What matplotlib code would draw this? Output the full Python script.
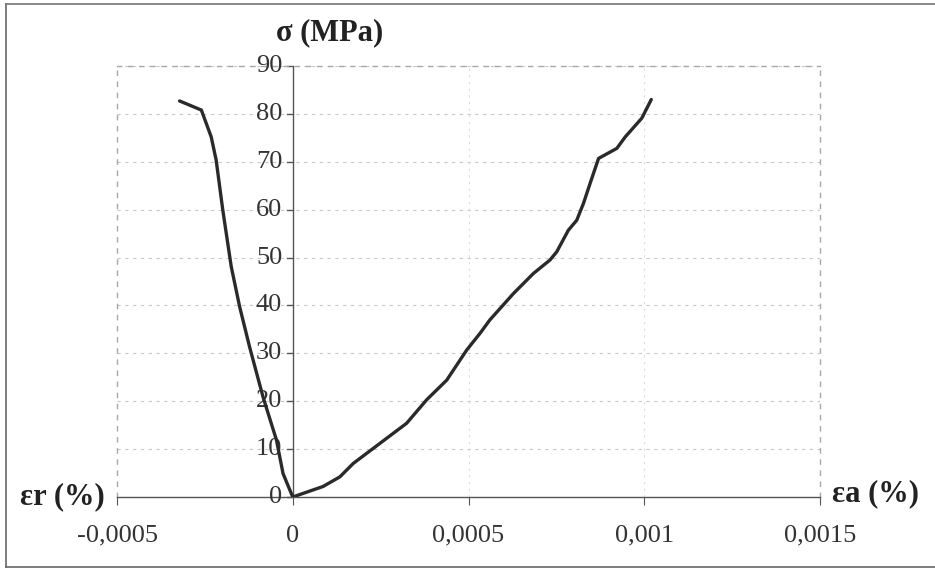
import matplotlib
matplotlib.use("Agg")
import matplotlib.pyplot as plt
from matplotlib.lines import Line2D

# radial strain (left branch)
er_x = [-0.000322, -0.000260, -0.000232, -0.000218, -0.000199, -0.000175,
        -0.000151, -0.000123, -0.0000846, -0.0000464, -0.0000276, 0.0]
er_y = [82.7, 80.8, 75.2, 70.4, 59.9, 48.1, 39.7, 31.4, 20.9, 11.9, 4.9, 0.0]

# axial strain (right branch)
ea_x = [0.0, 0.0000863, 0.000134, 0.000172, 0.000248, 0.000324, 0.000381,
        0.000438, 0.000495, 0.000533, 0.000561, 0.000628, 0.000685, 0.000732,
        0.000751, 0.000784, 0.000808, 0.000827, 0.000846, 0.000870, 0.000922,
        0.000946, 0.000993, 0.00102]
ea_y = [0.0, 2.2, 4.2, 7.0, 11.2, 15.4, 20.3, 24.4, 30.7, 34.2, 37.0, 42.5,
        46.7, 49.5, 51.2, 55.7, 57.8, 61.3, 65.5, 70.7, 72.8, 75.2, 79.1, 83.0]

xticks = [-0.0005, 0, 0.0005, 0.001, 0.0015]
xlabels = ["-0,0005", "0", "0,0005", "0,001", "0,0015"]
yticks = [0, 10, 20, 30, 40, 50, 60, 70, 80, 90]

plt.rcParams['font.family'] = ['Liberation Serif', 'DejaVu Serif']

fig = plt.figure(figsize=(9.35, 5.73), dpi=100)
ax = fig.add_axes([117/935, 76/573, 703/935, 431/573])

ax.set_xlim(-0.0005, 0.0015)
ax.set_ylim(0, 90)

# grid
for y in yticks[1:]:
    ax.axhline(y, color="#c8c8c8", lw=0.8, ls=(0, (3, 4)), zorder=0)
for x in [0.0005, 0.001]:
    ax.axvline(x, color="#dcdcdc", lw=0.8, ls=(0, (2, 4)), zorder=0)

# dashed frame of plot area
for s in ["top", "right", "left"]:
    ax.spines[s].set_visible(True)
    ax.spines[s].set_color("#a8a8a8")
    ax.spines[s].set_linestyle((0, (3, 5)))
    ax.spines[s].set_linewidth(1.0)
ax.spines["bottom"].set_color("#555555")
ax.spines["bottom"].set_linewidth(1.0)
ax.tick_params(axis="x", direction="out", length=6, color="#555555",
               labelsize=19, labelcolor="#333333", pad=14)
ax.set_xticks(xticks)
ax.set_xticklabels(xlabels)
ax.set_yticks([])

# vertical axis at x = 0
ax.axvline(0, color="#555555", lw=1.0, zorder=2)
for y in yticks:
    ax.plot([-0.000015, 0], [y, y], color="#555555", lw=1.0, clip_on=False, zorder=2)
    ax.text(-0.00003, y, str(y), ha="right", va="center", fontsize=19, color="#333333")

ax.plot(er_x, er_y, color="#2a2a2a", lw=2.4, zorder=3, solid_capstyle="round")
ax.plot(ea_x, ea_y, color="#2a2a2a", lw=2.4, zorder=3, solid_capstyle="round")

fig.text(330/935, 1 - 33/573, "σ (MPa)", ha="center", va="center",
         fontsize=22, fontweight="bold", color="#222222")
fig.text(62/935, 1 - 497/573, "εr (%)", ha="center", va="center",
         fontsize=22, fontweight="bold", color="#222222")
fig.text(875/935, 1 - 494/573, "εa (%)", ha="center", va="center",
         fontsize=22, fontweight="bold", color="#222222")

# outer frame of scanned figure
fig.add_artist(Line2D([6/935, 6/935], [1 - 4/573, 1 - 567/573], color="#666666", lw=1.2))
fig.add_artist(Line2D([6/935, 1], [1 - 4/573, 1 - 4/573], color="#777777", lw=1.2))
fig.add_artist(Line2D([6/935, 1], [1 - 567/573, 1 - 567/573], color="#666666", lw=1.2))

fig.savefig("out.png", dpi=100)
